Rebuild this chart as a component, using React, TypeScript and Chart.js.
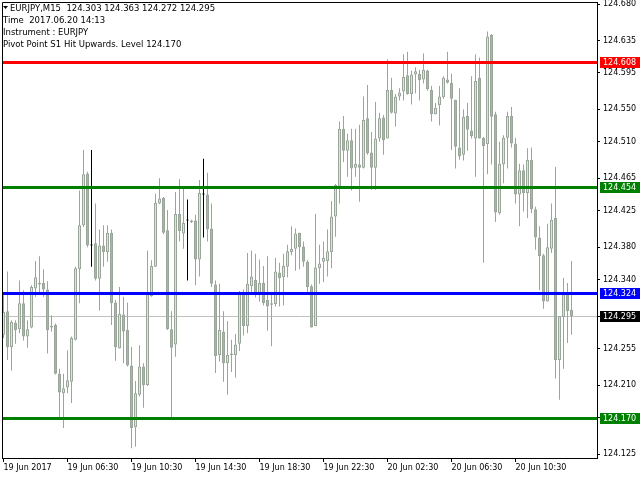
import React, { useEffect, useRef } from "react";
import { Chart, registerables } from "chart.js";

Chart.register(...registerables);

// EURJPY M15 candles, 19 Jun 2017 02:30 .. 20 Jun 2017 14:00
const openP = [
  124.272, 124.301, 124.257, 124.287, 124.279, 124.311, 124.270, 124.281, 124.329, 124.336,
  124.336, 124.328, 124.283, 124.284, 124.224, 124.200, 124.207, 124.214, 124.266, 124.353,
  124.407, 124.471, 124.382, 124.385, 124.341, 124.382, 124.374, 124.398, 124.312, 124.255,
  124.297, 124.278, 124.234, 124.158, 124.198, 124.233, 124.210, 124.320, 124.356, 124.434,
  124.441, 124.401, 124.279, 124.260, 124.421, 124.397, 124.413, 124.413, 124.413, 124.365,
  124.445, 124.445, 124.403, 124.334, 124.247, 124.276, 124.237, 124.247, 124.247, 124.261,
  124.325, 124.283, 124.332, 124.340, 124.321, 124.336, 124.315, 124.309, 124.310, 124.349,
  124.343, 124.356, 124.374, 124.378, 124.398, 124.381, 124.362, 124.332, 124.283, 124.354,
  124.362, 124.363, 124.374, 124.418, 124.455, 124.526, 124.499, 124.512, 124.478, 124.482,
  124.478, 124.539, 124.497, 124.478, 124.514, 124.540, 124.514, 124.574, 124.545, 124.566,
  124.572, 124.592, 124.569, 124.593, 124.594, 124.587, 124.598, 124.574, 124.544, 124.555,
  124.565, 124.587, 124.583, 124.562, 124.503, 124.494, 124.542, 124.524, 124.514, 124.589,
  124.515, 124.507, 124.642, 124.544, 124.422, 124.482, 124.515, 124.542, 124.508, 124.445,
  124.475, 124.447, 124.488, 124.427, 124.392, 124.370, 124.313, 124.378, 124.416, 124.241,
  124.294, 124.322, 124.303,
];
const highP = [
  124.323, 124.350, 124.290, 124.290, 124.339, 124.327, 124.290, 124.333, 124.363, 124.369,
  124.353, 124.338, 124.296, 124.286, 124.230, 124.224, 124.253, 124.270, 124.356, 124.450,
  124.500, 124.473, 124.500, 124.434, 124.402, 124.407, 124.407, 124.402, 124.315, 124.331,
  124.319, 124.312, 124.257, 124.215, 124.259, 124.237, 124.376, 124.364, 124.446, 124.465,
  124.442, 124.426, 124.301, 124.448, 124.464, 124.454, 124.439, 124.414, 124.420, 124.463,
  124.489, 124.472, 124.434, 124.339, 124.335, 124.301, 124.289, 124.266, 124.273, 124.326,
  124.328, 124.373, 124.376, 124.372, 124.365, 124.357, 124.369, 124.322, 124.367, 124.361,
  124.372, 124.383, 124.406, 124.403, 124.398, 124.387, 124.364, 124.334, 124.421, 124.383,
  124.387, 124.402, 124.437, 124.458, 124.535, 124.542, 124.520, 124.526, 124.526, 124.531,
  124.566, 124.580, 124.522, 124.559, 124.546, 124.543, 124.612, 124.589, 124.569, 124.576,
  124.618, 124.621, 124.598, 124.602, 124.599, 124.619, 124.599, 124.579, 124.558, 124.579,
  124.591, 124.621, 124.594, 124.562, 124.576, 124.550, 124.558, 124.591, 124.618, 124.614,
  124.516, 124.646, 124.643, 124.547, 124.510, 124.518, 124.547, 124.553, 124.515, 124.483,
  124.482, 124.502, 124.503, 124.430, 124.406, 124.372, 124.409, 124.434, 124.479, 124.295,
  124.342, 124.336, 124.363,
];
const lowP = [
  124.268, 124.241, 124.228, 124.261, 124.274, 124.265, 124.256, 124.280, 124.319, 124.323,
  124.319, 124.249, 124.276, 124.223, 124.169, 124.157, 124.200, 124.188, 124.265, 124.311,
  124.405, 124.380, 124.356, 124.339, 124.302, 124.356, 124.362, 124.284, 124.240, 124.255,
  124.237, 124.233, 124.132, 124.134, 124.196, 124.182, 124.209, 124.319, 124.356, 124.433,
  124.396, 124.278, 124.170, 124.245, 124.387, 124.378, 124.339, 124.410, 124.333, 124.344,
  124.392, 124.387, 124.331, 124.225, 124.239, 124.214, 124.198, 124.226, 124.219, 124.252,
  124.271, 124.274, 124.321, 124.318, 124.313, 124.308, 124.277, 124.258, 124.307, 124.307,
  124.308, 124.343, 124.370, 124.351, 124.353, 124.356, 124.323, 124.281, 124.283, 124.335,
  124.337, 124.344, 124.354, 124.393, 124.434, 124.485, 124.467, 124.450, 124.467, 124.436,
  124.477, 124.494, 124.451, 124.451, 124.510, 124.494, 124.514, 124.545, 124.529, 124.561,
  124.561, 124.568, 124.556, 124.570, 124.561, 124.582, 124.573, 124.535, 124.544, 124.530,
  124.563, 124.582, 124.500, 124.477, 124.488, 124.487, 124.499, 124.514, 124.467, 124.514,
  124.361, 124.470, 124.482, 124.411, 124.420, 124.459, 124.477, 124.503, 124.434, 124.406,
  124.424, 124.416, 124.422, 124.377, 124.327, 124.304, 124.313, 124.373, 124.218, 124.192,
  124.230, 124.262, 124.272,
];
const closeP = [
  124.300, 124.257, 124.288, 124.278, 124.311, 124.270, 124.279, 124.331, 124.343, 124.334,
  124.328, 124.278, 124.281, 124.224, 124.201, 124.206, 124.216, 124.268, 124.354, 124.407,
  124.470, 124.382, 124.382, 124.341, 124.382, 124.374, 124.398, 124.311, 124.257, 124.298,
  124.276, 124.234, 124.157, 124.200, 124.233, 124.210, 124.322, 124.357, 124.435, 124.440,
  124.398, 124.279, 124.256, 124.421, 124.400, 124.410, 124.413, 124.411, 124.365, 124.447,
  124.445, 124.402, 124.335, 124.246, 124.278, 124.237, 124.247, 124.249, 124.260, 124.323,
  124.283, 124.335, 124.344, 124.321, 124.336, 124.311, 124.307, 124.311, 124.350, 124.342,
  124.357, 124.375, 124.378, 124.397, 124.380, 124.362, 124.331, 124.281, 124.355, 124.360,
  124.367, 124.375, 124.418, 124.457, 124.526, 124.499, 124.512, 124.477, 124.483, 124.478,
  124.537, 124.496, 124.478, 124.514, 124.539, 124.512, 124.574, 124.546, 124.566, 124.571,
  124.590, 124.569, 124.593, 124.597, 124.586, 124.599, 124.575, 124.544, 124.552, 124.566,
  124.589, 124.583, 124.563, 124.504, 124.492, 124.541, 124.525, 124.517, 124.585, 124.514,
  124.505, 124.640, 124.541, 124.423, 124.483, 124.515, 124.542, 124.508, 124.445, 124.475,
  124.447, 124.488, 124.427, 124.392, 124.369, 124.313, 124.380, 124.414, 124.241, 124.295,
  124.322, 124.301, 124.295,
];

const xTickIndex = [0, 16, 32, 48, 64, 80, 96, 112, 128];
const xTickText = [
  "19 Jun 2017", "19 Jun 06:30", "19 Jun 10:30", "19 Jun 14:30", "19 Jun 18:30",
  "19 Jun 22:30", "20 Jun 02:30", "20 Jun 06:30", "20 Jun 10:30",
];
const yTickValues = [
  124.680, 124.635, 124.595, 124.550, 124.510, 124.465, 124.425, 124.380, 124.340,
  124.295, 124.255, 124.210, 124.170, 124.125,
];
const levelValues = [124.608, 124.454, 124.324, 124.170];
const levelColors = ["#FF0000", "#008000", "#0000FF", "#008000"];
const bidPrice = 124.295;
const headerLines = [
  "EURJPY,M15  124.303 124.363 124.272 124.295",
  "Time  2017.06.20 14:13",
  "Instrument : EURJPY",
  "Pivot Point S1 Hit Upwards. Level 124.170",
];

const FONT = "'DejaVu Sans', 'Liberation Sans', sans-serif";
const WICK = "#9AA69A";
const BULL_FILL = "#DCE4DB";
const BEAR_FILL = "#AAB5A9";

const overlayPlugin = {
  id: "mtOverlay",
  beforeDatasetsDraw(chart: any) {
    const { ctx, chartArea: a, scales } = chart;
    const py = Math.round(scales.y.getPixelForValue(bidPrice)) + 0.5;
    ctx.save();
    ctx.strokeStyle = "#C0C0C0";
    ctx.lineWidth = 1;
    ctx.beginPath();
    ctx.moveTo(a.left, py);
    ctx.lineTo(a.right, py);
    ctx.stroke();
    ctx.restore();
  },
  afterDatasetsDraw(chart: any) {
    const { ctx, chartArea: a, scales } = chart;
    ctx.save();
    ctx.lineWidth = 3;
    levelValues.forEach((v, k) => {
      const py = Math.round(scales.y.getPixelForValue(v)) + 0.5;
      ctx.strokeStyle = levelColors[k];
      ctx.beginPath();
      ctx.moveTo(a.left, py);
      ctx.lineTo(a.right, py);
      ctx.stroke();
    });
    ctx.restore();
  },
  afterDraw(chart: any) {
    const { ctx, chartArea: a, scales } = chart;
    ctx.save();
    // frame
    ctx.strokeStyle = "#000";
    ctx.lineWidth = 1;
    ctx.beginPath();
    ctx.moveTo(a.left + 0.5, a.bottom + 0.5);
    ctx.lineTo(a.left + 0.5, a.top + 0.5);
    ctx.lineTo(a.right + 0.5, a.top + 0.5);
    ctx.lineTo(a.right + 0.5, a.bottom + 0.5);
    ctx.lineTo(a.left + 0.5, a.bottom + 0.5);
    ctx.stroke();

    // price boxes on the right scale
    ctx.font = `8px ${FONT}`;
    ctx.textBaseline = "middle";
    ctx.textAlign = "left";
    const boxes = levelValues.map((v, k) => ({ v, c: levelColors[k] }));
    boxes.push({ v: bidPrice, c: "#000000" });
    boxes.forEach((b) => {
      const py = Math.round(scales.y.getPixelForValue(b.v));
      ctx.fillStyle = b.c;
      ctx.fillRect(a.right + 3, py - 5, 40, 11);
      ctx.fillStyle = "#FFFFFF";
      ctx.fillText(b.v.toFixed(3), a.right + 6, py + 0.5);
    });

    // header text
    ctx.fillStyle = "#000";
    ctx.beginPath();
    ctx.moveTo(a.left + 1, a.top + 4);
    ctx.lineTo(a.left + 6, a.top + 4);
    ctx.lineTo(a.left + 3.5, a.top + 7);
    ctx.closePath();
    ctx.fill();
    ctx.font = `8.5px ${FONT}`;
    ctx.textBaseline = "alphabetic";
    const baselines = [10.5, 23, 35, 47];
    headerLines.forEach((t, k) => {
      ctx.fillText(t, k === 0 ? a.left + 8 : a.left + 1, baselines[k]);
    });
    ctx.restore();
  },
};

export default function App() {
  const ref = useRef<HTMLCanvasElement | null>(null);

  useEffect(() => {
    if (!ref.current) return;
    const idx = openP.map((_, i) => i);
    const isDoji = (i: number) => openP[i] === closeP[i];
    const isBull = (i: number) => closeP[i] > openP[i];

    const bodyData = idx.map((i) => ({
      x: i,
      y: [Math.min(openP[i], closeP[i]), Math.max(openP[i], closeP[i])],
    }));
    const wickData = idx.map((i) => ({ x: i, y: [lowP[i], highP[i]] }));

    const chart = new Chart(ref.current, {
      type: "bar",
      data: {
        datasets: [
          {
            label: "body",
            data: bodyData as any,
            barThickness: 3,
            borderWidth: 1,
            borderSkipped: false,
            minBarLength: 1,
            inflateAmount: 0,
            grouped: false,
            borderColor: idx.map((i) => (isDoji(i) ? "#000000" : WICK)),
            backgroundColor: idx.map((i) =>
              isDoji(i) ? "#000000" : isBull(i) ? BULL_FILL : BEAR_FILL
            ),
          } as any,
          {
            label: "wick",
            data: wickData as any,
            barThickness: 1,
            borderWidth: 0,
            inflateAmount: 0,
            grouped: false,
            backgroundColor: idx.map((i) => (isDoji(i) ? "#000000" : WICK)),
          } as any,
        ],
      },
      options: {
        responsive: false,
        animation: false,
        events: [],
        layout: { padding: { top: 2, left: 2, right: 0, bottom: 0 } },
        plugins: { legend: { display: false }, tooltip: { enabled: false } },
        scales: {
          x: {
            type: "linear",
            position: "bottom",
            offset: false,
            bounds: "data",
            grace: 0,
            min: -0.375,
            max: 148.375,
            afterBuildTicks: (s: any) => {
              s.ticks = xTickIndex.map((v) => ({ value: v }));
            },
            afterFit: (s: any) => {
              s.height = 22;
              s.paddingLeft = 0;
              s.paddingRight = 0;
            },
            grid: {
              display: true,
              offset: false,
              drawOnChartArea: false,
              drawTicks: true,
              tickLength: 4,
              color: "#000",
            },
            border: { display: true, color: "#000" },
            ticks: {
              autoSkip: false,
              maxRotation: 0,
              minRotation: 0,
              align: "start",
              padding: 1,
              color: "#000",
              font: { family: FONT, size: 8 },
              callback: (_v: any, i: number) => xTickText[i] ?? "",
            },
          } as any,
          y: {
            type: "linear",
            position: "right",
            min: 124.12007,
            max: 124.68247,
            afterBuildTicks: (s: any) => {
              s.ticks = yTickValues.map((v) => ({ value: v }));
            },
            afterFit: (s: any) => {
              s.width = 43;
              s.paddingTop = 0;
              s.paddingBottom = 0;
            },
            grid: {
              display: true,
              drawOnChartArea: false,
              drawTicks: true,
              tickLength: 3,
              color: "#000",
            },
            border: { display: true, color: "#000" },
            ticks: {
              autoSkip: false,
              padding: 3,
              color: "#000",
              font: { family: FONT, size: 8 },
              callback: (v: any) => Number(v).toFixed(3),
            },
          } as any,
        },
      },
      plugins: [overlayPlugin],
    });
    return () => chart.destroy();
  }, []);

  return (
    <div style={{ position: "fixed", left: 0, top: 0, width: 640, height: 480, background: "#fff" }}>
      <canvas ref={ref} width={640} height={480} style={{ display: "block" }} />
    </div>
  );
}
